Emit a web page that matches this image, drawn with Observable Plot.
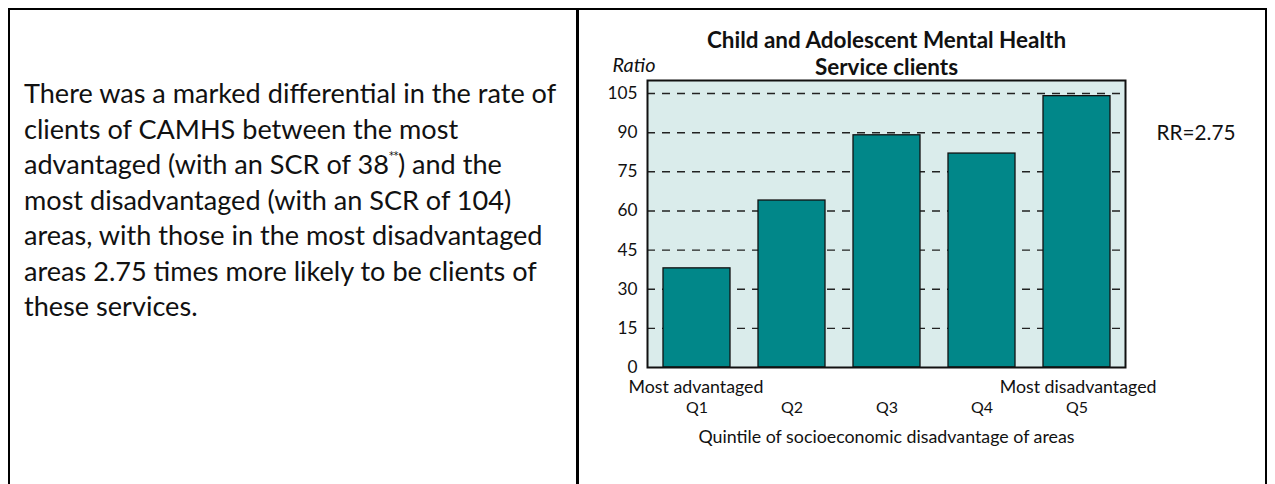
<!DOCTYPE html>
<html>
<head>
<meta charset="utf-8">
<script src="https://cdn.jsdelivr.net/npm/d3@7"></script>
<script src="https://cdn.jsdelivr.net/npm/@observablehq/plot@0.6"></script>
<style>
  html, body { margin: 0; padding: 0; background: #fff; overflow: hidden; }
  #page { position: relative; width: 1275px; height: 484px; overflow: hidden; }
  #box { position: absolute; left: 8px; top: 8px; width: 1259px; height: 520px; border: 2.5px solid #000; box-sizing: border-box; }
  #divider { position: absolute; left: 576px; top: 8px; width: 2.5px; height: 520px; background: #000; }
  #text { position: absolute; left: 24px; top: 75px; width: 552px; white-space: nowrap; font-family: Lato, sans-serif; line-height: 35.5px; color: #111; }
  #text sup { font-family: "DejaVu Sans", sans-serif; font-size: 10px; vertical-align: top; line-height: 1; position: relative; top: 5px; letter-spacing: -0.5px; }
  #title { position: absolute; left: 647px; width: 479px; top: 26px; text-align: center; font-family: Lato, sans-serif; font-weight: bold; line-height: 27px; color: #111; white-space: nowrap; }
  #chart { position: absolute; left: 580px; top: 0px; }
</style>
</head>
<body>
<div id="page">
  <div id="box"></div>
  <div id="divider"></div>
  <div id="text"></div>
  <div id="title"></div>
  <div id="chart"></div>
</div>
<script>
// ---- data ----
const quintiles = ["Q1", "Q2", "Q3", "Q4", "Q5"];
const ratios = [38, 64, 89, 82, 104];
const yTicks = [0, 15, 30, 45, 60, 75, 90, 105];
const yLabel = "Ratio";
const xLabel = "Quintile of socioeconomic disadvantage of areas";
const leftEndLabel = "Most advantaged";
const rightEndLabel = "Most disadvantaged";
const rrLabel = "RR=2.75";
const rrAt = 90;
const titleLines = ["Child and Adolescent Mental Health", "Service clients"];
const bodyLines = [
  "There was a marked differential in the rate of",
  "clients of CAMHS between the most",
  "advantaged (with an SCR of 38<sup>**</sup>) and the",
  "most disadvantaged (with an SCR of 104)",
  "areas, with those in the most disadvantaged",
  "areas 2.75 times more likely to be clients of",
  "these services."
];

// ---- font fitting helper (sizes chosen so text widths match the reference) ----
const ctx = document.createElement("canvas").getContext("2d");
function fit(text, fontTpl, target) {
  ctx.font = fontTpl.replace("{}", "100px");
  return 100 * target / ctx.measureText(text).width;
}

const textEl = document.getElementById("text");
textEl.innerHTML = bodyLines.join("<br>");
textEl.style.fontSize = fit(bodyLines[0], "{} Lato", 533) + "px";

const titleEl = document.getElementById("title");
titleEl.innerHTML = titleLines.join("<br>");
titleEl.style.fontSize = fit(titleLines[0], "bold {} Lato", 360) + "px";

const data = quintiles.map((q, i) => ({q, v: ratios[i]}));
const font = "Lato";
const tickSize = fit("105", "{} Lato", 30);
const qSize = fit("Q1", "{} Lato", 22);
const endSize = fit(leftEndLabel, "{} Lato", 135);
const xLabSize = fit(xLabel, "{} Lato", 377);
const ratioSize = fit(yLabel, "italic {} Lato", 43);
const rrSize = fit(rrLabel, "{} Lato", 79);

const chart = Plot.plot({
  width: 686,
  height: 470,
  marginLeft: 67,
  marginRight: 141,
  marginTop: 80,
  marginBottom: 103,
  style: {background: "transparent", fontFamily: font, fontSize: "14px", color: "#111"},
  x: {domain: quintiles, paddingInner: 0.3, paddingOuter: 0.15},
  y: {domain: [0, 110]},
  marks: [
    Plot.frame({fill: "#DAECEB", stroke: null}),
    Plot.gridY(yTicks.filter(d => d > 0), {stroke: "#222", strokeOpacity: 1, strokeWidth: 1.4, strokeDasharray: "8,7"}),
    Plot.barY(data, {x: "q", y: "v", fill: "#018789", stroke: "#111", strokeWidth: 1.3}),
    Plot.frame({stroke: "#111", strokeWidth: 2}),
    Plot.axisY(yTicks, {tickSize: 0, tickPadding: 10, label: null, fontSize: tickSize, fontFamily: font, fill: "#111"}),
    Plot.axisX({tickSize: 0, tickPadding: 34, label: null, fontSize: qSize, fontFamily: font, fill: "#111"}),
    Plot.text([yLabel], {text: d => d, frameAnchor: "top-left", dx: -35, dy: -9, textAnchor: "start", lineAnchor: "bottom", fontStyle: "italic", fontSize: ratioSize, fontFamily: font, fill: "#111"}),
    Plot.text([leftEndLabel], {text: d => d, frameAnchor: "bottom-left", dx: -19, dy: 25.5, textAnchor: "start", lineAnchor: "bottom", fontSize: endSize, fontFamily: font, fill: "#111"}),
    Plot.text([rightEndLabel], {text: d => d, frameAnchor: "bottom-right", dx: 31, dy: 25.5, textAnchor: "end", lineAnchor: "bottom", fontSize: endSize, fontFamily: font, fill: "#111"}),
    Plot.text([xLabel], {text: d => d, frameAnchor: "bottom", dy: 75, lineAnchor: "bottom", fontSize: xLabSize, fontFamily: font, fill: "#111"}),
    Plot.text([rrAt], {y: d => d, text: () => rrLabel, frameAnchor: "right", dx: 31, dy: 1, textAnchor: "start", fontSize: rrSize, fontFamily: font, fill: "#111"})
  ]
});
document.getElementById("chart").appendChild(chart);
</script>
</body>
</html>
